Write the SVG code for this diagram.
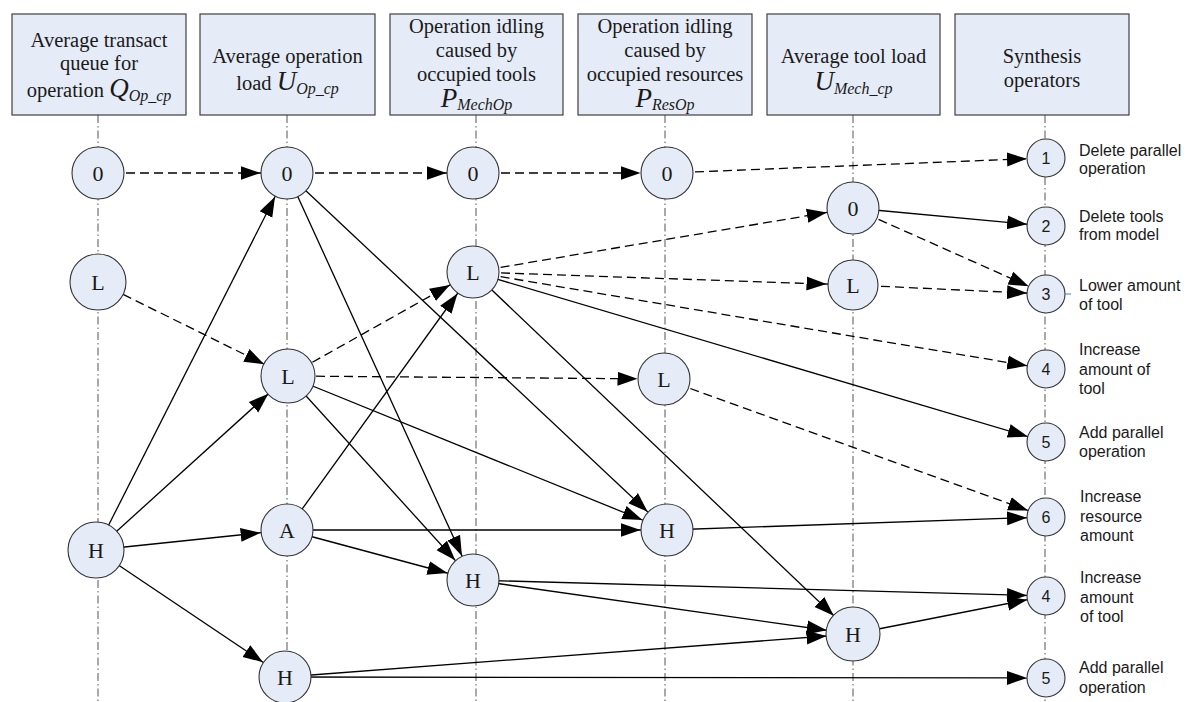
<svg xmlns="http://www.w3.org/2000/svg" width="1188" height="702" viewBox="0 0 1188 702">
  <style>
    .hdr { fill: #E6ECF7; stroke: #404040; stroke-width: 1.2; }
    .ht { font-family: "Liberation Serif", "Times New Roman", serif; font-size: 20.5px; fill: #1a1a1a; text-anchor: middle; }
    .var { font-style: italic; font-size: 27px; }
    .sub { font-style: italic; font-size: 16px; }
    .axis { stroke: #555; stroke-width: 1; stroke-dasharray: 8 3 1.5 3; fill: none; }
    .node { fill: #E6ECF7; stroke: #333; stroke-width: 1.1; }
    .nt { font-family: "Liberation Serif", "Times New Roman", serif; font-size: 22px; fill: #1a1a1a; text-anchor: middle; }
    .ot { font-family: "Liberation Sans", Arial, sans-serif; font-size: 16px; fill: #1a1a1a; text-anchor: middle; }
    .lbl { font-family: "Liberation Sans", Arial, sans-serif; font-size: 16px; fill: #1a1a1a; }
    .solid { stroke: #000; stroke-width: 1.3; fill: none; }
    .dash { stroke: #000; stroke-width: 1.3; fill: none; stroke-dasharray: 9 5; }
    .a26 { marker-end: url(#arr26); }
    .a19 { marker-end: url(#arr19); }
  </style>
  <defs>
    <!-- arrowheads whose tip stops on the rim of the target circle -->
    <marker id="arr26" markerUnits="userSpaceOnUse" markerWidth="50" markerHeight="16" refX="46.5" refY="8" orient="auto" viewBox="0 0 50 16">
      <path d="M0,1 L20,8 L0,15 Z" fill="#000"/>
    </marker>
    <marker id="arr19" markerUnits="userSpaceOnUse" markerWidth="50" markerHeight="16" refX="39" refY="8" orient="auto" viewBox="0 0 50 16">
      <path d="M0,1 L20,8 L0,15 Z" fill="#000"/>
    </marker>
  </defs>

  <rect width="1188" height="702" fill="#fff"/>

  <!-- column axes -->
  <g id="axes">
    <line class="axis" x1="98" y1="115" x2="98" y2="702"/>
    <line class="axis" x1="287" y1="115" x2="287" y2="702"/>
    <line class="axis" x1="476" y1="115" x2="476" y2="702"/>
    <line class="axis" x1="665" y1="115" x2="665" y2="702"/>
    <line class="axis" x1="853" y1="115" x2="853" y2="702"/>
    <line class="axis" x1="1045" y1="115" x2="1045" y2="702"/>
  </g>

  <!-- column headers -->
  <g id="header-queue">
    <rect class="hdr" x="12" y="14" width="174" height="101"/>
    <text class="ht" x="99" y="47">Average transact</text>
    <text class="ht" x="99" y="70">queue for</text>
    <text class="ht" x="99" y="97">operation <tspan class="var">Q</tspan><tspan class="sub" dy="4">Op_cp</tspan></text>
  </g>
  <g id="header-opload">
    <rect class="hdr" x="200" y="14" width="175" height="101"/>
    <text class="ht" x="287.5" y="63">Average operation</text>
    <text class="ht" x="287.5" y="90">load <tspan class="var">U</tspan><tspan class="sub" dy="4">Op_cp</tspan></text>
  </g>
  <g id="header-idle-tools">
    <rect class="hdr" x="390" y="14" width="173" height="101"/>
    <text class="ht" x="476.5" y="33">Operation idling</text>
    <text class="ht" x="476.5" y="57">caused by</text>
    <text class="ht" x="476.5" y="81">occupied tools</text>
    <text class="ht" x="476.5" y="107"><tspan class="var">P</tspan><tspan class="sub" dy="3">MechOp</tspan></text>
  </g>
  <g id="header-idle-res">
    <rect class="hdr" x="578" y="14" width="174" height="101"/>
    <text class="ht" x="665" y="33">Operation idling</text>
    <text class="ht" x="665" y="57">caused by</text>
    <text class="ht" x="665" y="81">occupied resources</text>
    <text class="ht" x="665" y="107"><tspan class="var">P</tspan><tspan class="sub" dy="3">ResOp</tspan></text>
  </g>
  <g id="header-toolload">
    <rect class="hdr" x="767" y="14" width="173" height="101"/>
    <text class="ht" x="853.5" y="63">Average tool load</text>
    <text class="ht" x="853.5" y="90"><tspan class="var">U</tspan><tspan class="sub" dy="4">Mech_cp</tspan></text>
  </g>
  <g id="header-synth">
    <rect class="hdr" x="955" y="14" width="174" height="101"/>
    <text class="ht" x="1042" y="63">Synthesis</text>
    <text class="ht" x="1042" y="87">operators</text>
  </g>

  <!-- transitions between states -->
  <g id="connectors">
    <!-- dashed -->
    <line class="dash a26" x1="98" y1="173" x2="287" y2="173"/>
    <line class="dash a26" x1="287" y1="173" x2="473" y2="173"/>
    <line class="dash a26" x1="473" y1="173" x2="667" y2="173"/>
    <line class="dash a19" x1="667" y1="173" x2="1046" y2="158"/>
    <line class="dash a26" x1="98" y1="282" x2="288" y2="376"/>
    <line class="dash a26" x1="288" y1="376" x2="473" y2="272"/>
    <line class="dash a26" x1="288" y1="376" x2="664" y2="379"/>
    <line class="dash a26" x1="473" y1="272" x2="853" y2="208"/>
    <line class="dash a26" x1="473" y1="272" x2="853" y2="285"/>
    <line class="dash a19" x1="473" y1="272" x2="1046" y2="369"/>
    <line class="dash a19" x1="853" y1="208" x2="1046" y2="294"/>
    <line class="dash a19" x1="853" y1="285" x2="1046" y2="294"/>
    <line class="dash a19" x1="664" y1="379" x2="1046" y2="517"/>
    <!-- solid -->
    <line class="solid a19" x1="473" y1="272" x2="1046" y2="442"/>
    <line class="solid a26" x1="473" y1="272" x2="853" y2="634"/>
    <line class="solid a19" x1="853" y1="208" x2="1046" y2="226"/>
    <line class="solid a26" x1="96" y1="550" x2="287" y2="173"/>
    <line class="solid a26" x1="96" y1="550" x2="288" y2="376"/>
    <line class="solid a26" x1="96" y1="550" x2="287" y2="530"/>
    <line class="solid a26" x1="96" y1="550" x2="285" y2="677"/>
    <line class="solid a26" x1="287" y1="173" x2="473" y2="580"/>
    <line class="solid a26" x1="287" y1="173" x2="667" y2="530"/>
    <line class="solid a26" x1="288" y1="376" x2="473" y2="580"/>
    <line class="solid a26" x1="288" y1="376" x2="667" y2="530"/>
    <line class="solid a26" x1="287" y1="530" x2="473" y2="272"/>
    <line class="solid a26" x1="287" y1="530" x2="667" y2="530"/>
    <line class="solid a26" x1="287" y1="530" x2="473" y2="580"/>
    <line class="solid a19" x1="667" y1="530" x2="1046" y2="517"/>
    <line class="solid a19" x1="473" y1="580" x2="1046" y2="596"/>
    <line class="solid a26" x1="473" y1="580" x2="853" y2="634"/>
    <line class="solid a19" x1="853" y1="634" x2="1046" y2="596"/>
    <line class="solid a26" x1="285" y1="677" x2="853" y2="634"/>
    <line class="solid a19" x1="285" y1="677" x2="1046" y2="678"/>
  </g>

  <!-- queue states -->
  <g id="q-0"><circle class="node" cx="98" cy="173" r="26"/><text class="nt" x="98" y="180.5">0</text></g>
  <g id="q-L"><circle class="node" cx="98" cy="282" r="28"/><text class="nt" x="98" y="289.5">L</text></g>
  <g id="q-H"><circle class="node" cx="96" cy="550" r="28"/><text class="nt" x="96" y="557.5">H</text></g>

  <!-- operation load states -->
  <g id="u-0"><circle class="node" cx="287" cy="173" r="26"/><text class="nt" x="287" y="180.5">0</text></g>
  <g id="u-L"><circle class="node" cx="288" cy="376" r="27"/><text class="nt" x="288" y="383.5">L</text></g>
  <g id="u-A"><circle class="node" cx="287" cy="530" r="26"/><text class="nt" x="287" y="537.5">A</text></g>
  <g id="u-H"><circle class="node" cx="285" cy="677" r="26"/><text class="nt" x="285" y="684.5">H</text></g>

  <!-- idling by tools -->
  <g id="pm-0"><circle class="node" cx="473" cy="173" r="26"/><text class="nt" x="473" y="180.5">0</text></g>
  <g id="pm-L"><circle class="node" cx="473" cy="272" r="26"/><text class="nt" x="473" y="279.5">L</text></g>
  <g id="pm-H"><circle class="node" cx="473" cy="580" r="26"/><text class="nt" x="473" y="587.5">H</text></g>

  <!-- idling by resources -->
  <g id="pr-0"><circle class="node" cx="667" cy="173" r="26"/><text class="nt" x="667" y="180.5">0</text></g>
  <g id="pr-L"><circle class="node" cx="664" cy="379" r="26"/><text class="nt" x="664" y="386.5">L</text></g>
  <g id="pr-H"><circle class="node" cx="667" cy="530" r="26"/><text class="nt" x="667" y="537.5">H</text></g>

  <!-- tool load states -->
  <g id="m-0"><circle class="node" cx="853" cy="208" r="26"/><text class="nt" x="853" y="215.5">0</text></g>
  <g id="m-L"><circle class="node" cx="853" cy="285" r="25"/><text class="nt" x="853" y="292.5">L</text></g>
  <g id="m-H"><circle class="node" cx="853" cy="634" r="27"/><text class="nt" x="853" y="641.5">H</text></g>

  <!-- synthesis operators -->
  <g id="op-1"><circle class="node" cx="1046" cy="158" r="19"/><text class="ot" x="1046" y="164">1</text>
    <text class="lbl" x="1079" y="156">Delete parallel</text><text class="lbl" x="1079" y="174">operation</text></g>
  <g id="op-2"><circle class="node" cx="1046" cy="226" r="19"/><text class="ot" x="1046" y="232">2</text>
    <text class="lbl" x="1079" y="222">Delete tools</text><text class="lbl" x="1079" y="240">from model</text></g>
  <g id="op-3"><circle class="node" cx="1046" cy="294" r="19"/><text class="ot" x="1046" y="300">3</text>
    <line x1="1065" y1="294" x2="1071" y2="294" stroke="#4a7fc1" stroke-width="1"/>
    <text class="lbl" x="1079" y="291">Lower amount</text><text class="lbl" x="1079" y="310">of tool</text></g>
  <g id="op-4"><circle class="node" cx="1046" cy="369" r="19"/><text class="ot" x="1046" y="375">4</text>
    <text class="lbl" x="1079" y="355">Increase</text><text class="lbl" x="1079" y="375">amount of</text><text class="lbl" x="1079" y="394">tool</text></g>
  <g id="op-5"><circle class="node" cx="1046" cy="442" r="19"/><text class="ot" x="1046" y="448">5</text>
    <text class="lbl" x="1079" y="438">Add parallel</text><text class="lbl" x="1079" y="457">operation</text></g>
  <g id="op-6"><circle class="node" cx="1046" cy="517" r="19"/><text class="ot" x="1046" y="523">6</text>
    <text class="lbl" x="1080" y="502">Increase</text><text class="lbl" x="1080" y="522">resource</text><text class="lbl" x="1080" y="541">amount</text></g>
  <g id="op-4b"><circle class="node" cx="1046" cy="596" r="19"/><text class="ot" x="1046" y="602">4</text>
    <text class="lbl" x="1080" y="583">Increase</text><text class="lbl" x="1080" y="603">amount</text><text class="lbl" x="1080" y="622">of tool</text></g>
  <g id="op-5b"><circle class="node" cx="1046" cy="678" r="19"/><text class="ot" x="1046" y="684">5</text>
    <text class="lbl" x="1079" y="673">Add parallel</text><text class="lbl" x="1079" y="693">operation</text></g>
</svg>
